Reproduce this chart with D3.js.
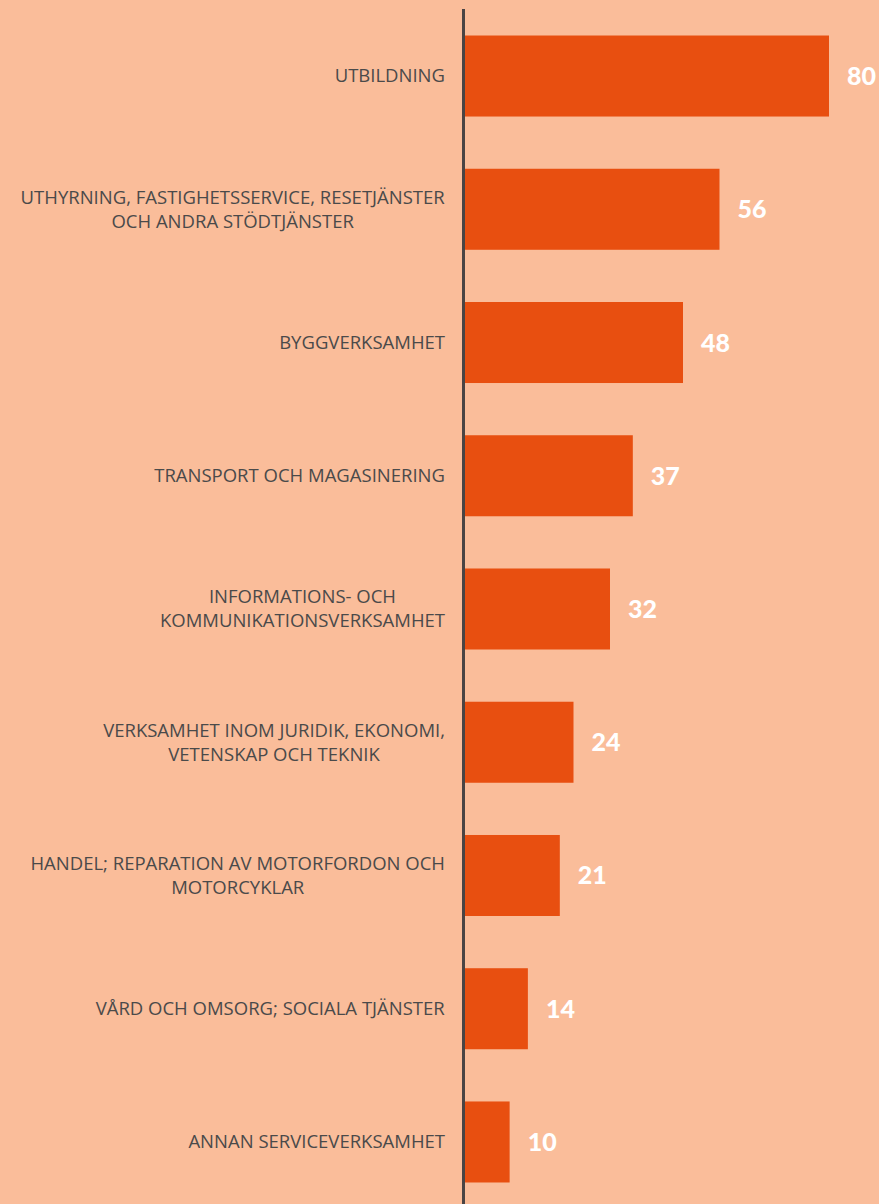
<!DOCTYPE html>
<html><head><meta charset="utf-8">
<script src="https://cdn.jsdelivr.net/npm/d3@7"></script>
<style>html,body{margin:0;padding:0;background:#FABD9A;}</style>
</head><body>
<svg id="c" width="879" height="1204"></svg>
<script>
const categories = [
  ["UTBILDNING"],
  ["UTHYRNING, FASTIGHETSSERVICE, RESETJÄNSTER", "OCH ANDRA STÖDTJÄNSTER"],
  ["BYGGVERKSAMHET"],
  ["TRANSPORT OCH MAGASINERING"],
  ["INFORMATIONS- OCH", "KOMMUNIKATIONSVERKSAMHET"],
  ["VERKSAMHET INOM JURIDIK, EKONOMI,", "VETENSKAP OCH TEKNIK"],
  ["HANDEL; REPARATION AV MOTORFORDON OCH", "MOTORCYKLAR"],
  ["VÅRD OCH OMSORG; SOCIALA TJÄNSTER"],
  ["ANNAN SERVICEVERKSAMHET"]
];
const values = [80, 56, 48, 37, 32, 24, 21, 14, 10];

const svg = d3.select("#c");
svg.append("rect").attr("width", 879).attr("height", 1204).attr("fill", "#FABD9A");

const ids = categories.map((d, i) => i);
const x = d3.scaleLinear().domain([0, 80]).range([464, 829]);
const y = d3.scaleBand().domain(ids).range([9.4, 1208.6]).paddingInner(0.392).paddingOuter(0.196);

svg.selectAll("rect.bar").data(values).enter().append("rect")
  .attr("class", "bar")
  .attr("x", x(0))
  .attr("y", (d, i) => y(i))
  .attr("width", d => x(d) - x(0))
  .attr("height", y.bandwidth())
  .attr("fill", "#E84F10");

svg.selectAll("text.val").data(values).enter().append("text")
  .attr("class", "val")
  .attr("x", d => x(d) + 18)
  .attr("y", (d, i) => y(i) + y.bandwidth() / 2)
  .attr("dy", "0.36em")
  .attr("fill", "#ffffff")
  .attr("font-family", "Lato, 'Open Sans', sans-serif")
  .attr("font-weight", 900)
  .attr("font-size", 25)
  .text(d => d);

const labelRight = 445;
const g = svg.append("g");
categories.forEach((lines, i) => {
  const cy = y(i) + y.bandwidth() / 2;
  const t = g.append("text")
    .attr("font-family", "'Open Sans', Lato, sans-serif")
    .attr("font-size", 18.5)
    .attr("fill", "#4a4a4a")
    .attr("text-anchor", "middle");
  const n = lines.length;
  lines.forEach((l, j) => {
    t.append("tspan").attr("x", 0).attr("y", cy + (j - (n - 1) / 2) * 24).attr("dy", "0.35em").text(l);
  });
  const w = t.node().getBBox().width;
  t.selectAll("tspan").attr("x", labelRight - w / 2);
});

svg.append("line")
  .attr("x1", 463.5).attr("x2", 463.5)
  .attr("y1", 9).attr("y2", 1204)
  .attr("stroke", "#4a4444").attr("stroke-width", 3);
</script>
</body></html>
